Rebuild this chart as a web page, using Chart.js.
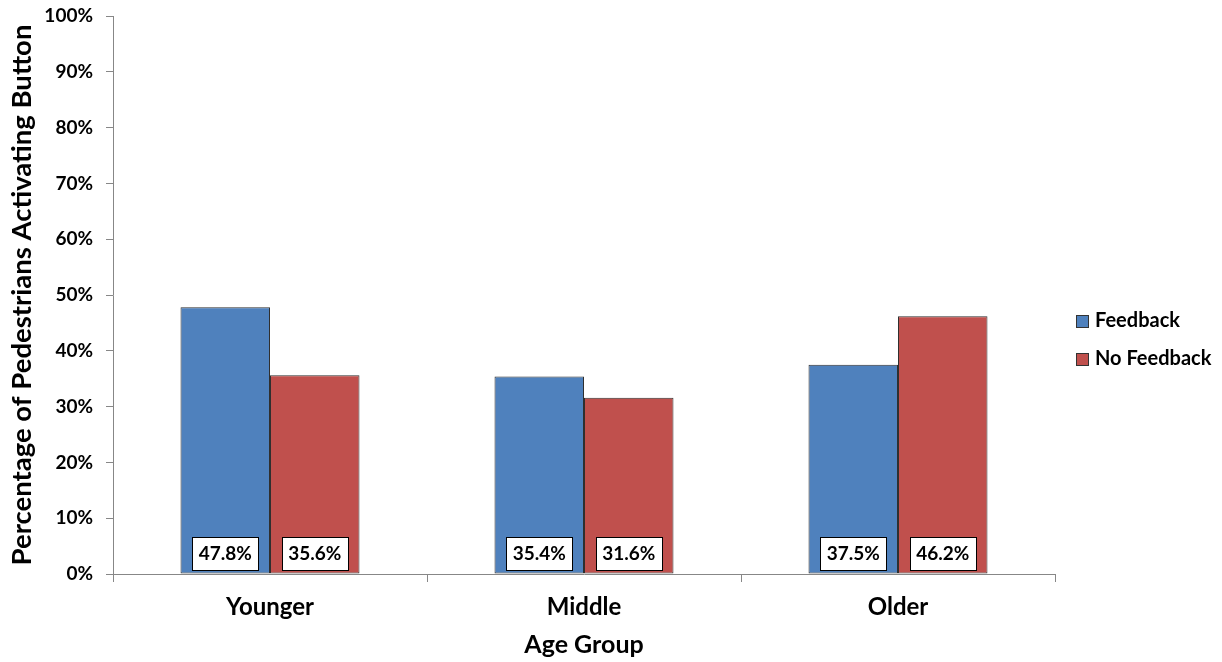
<!DOCTYPE html>
<html><head><meta charset="utf-8">
<script src="https://cdn.jsdelivr.net/npm/chart.js@4.4.1/dist/chart.umd.min.js"></script>
<style>html,body{margin:0;padding:0;background:#fff}#wrap{width:1222px;height:662px;position:relative}</style>
</head><body><div id="wrap"><canvas id="c"></canvas></div>
<script>
const categories = ['Younger', 'Middle', 'Older'];
const seriesNames = ['Feedback', 'No Feedback'];
const feedbackValues = [47.8, 35.4, 37.5];
const noFeedbackValues = [35.6, 31.6, 46.2];
const yTickStep = 10;
const yMax = 100;
const yTitle = 'Percentage of Pedestrians Activating Button';
const xTitle = 'Age Group';

const FONT = 'Lato, "Open Sans", sans-serif';
const AXIS_GRAY = '#878787';

const dataLabelPlugin = {
  id: 'dataLabels',
  afterDatasetsDraw(chart) {
    const ctx = chart.ctx;
    ctx.save();
    ctx.font = 'bold 19px ' + FONT;
    ctx.textAlign = 'center';
    ctx.textBaseline = 'middle';
    chart.data.datasets.forEach((ds, di) => {
      const meta = chart.getDatasetMeta(di);
      meta.data.forEach((bar, i) => {
        const w = 66, h = 33;
        const x = bar.x, bottom = bar.base - 4;
        ctx.fillStyle = '#fff';
        ctx.fillRect(Math.round(x - w / 2) + 0.5, Math.round(bottom - h) + 0.5, w, h);
        ctx.strokeStyle = '#000';
        ctx.lineWidth = 1;
        ctx.strokeRect(Math.round(x - w / 2) + 0.5, Math.round(bottom - h) + 0.5, w, h);
        ctx.fillStyle = '#000';
        ctx.fillText(ds.data[i].toFixed(1) + '%', x, bottom - h / 2 + 1);
      });
    });
    ctx.restore();
  }
};

const legendPlugin = {
  id: 'customLegend',
  afterDraw(chart) {
    const ctx = chart.ctx;
    const ca = chart.chartArea;
    ctx.save();
    ctx.font = 'bold 20px ' + FONT;
    ctx.textBaseline = 'middle';
    ctx.textAlign = 'left';
    const x0 = ca.right + 21;
    const rows = [321, 359];
    chart.data.datasets.forEach((ds, di) => {
      const cy = rows[di];
      ctx.fillStyle = ds.backgroundColor;
      ctx.fillRect(x0 + 0.5, cy - 6 + 0.5, 12, 12);
      ctx.strokeStyle = '#333';
      ctx.lineWidth = 1;
      ctx.strokeRect(x0 + 0.5, cy - 6 + 0.5, 12, 12);
      ctx.fillStyle = '#000';
      ctx.fillText(ds.label, x0 + 19, cy);
    });
    ctx.restore();
  }
};

new Chart(document.getElementById('c'), {
  type: 'bar',
  data: {
    labels: categories,
    datasets: [
      { label: seriesNames[0], data: feedbackValues, backgroundColor: '#4F81BD', borderColor: '#2f2f2f', borderWidth: 1, borderSkipped: false },
      { label: seriesNames[1], data: noFeedbackValues, backgroundColor: '#C0504D', borderColor: '#2f2f2f', borderWidth: 1, borderSkipped: false }
    ]
  },
  options: {
    responsive: true,
    maintainAspectRatio: false,
    animation: false,
    devicePixelRatio: 1,
    layout: { padding: { top: 16, right: 167, left: 0, bottom: 0 } },
    datasets: { bar: { categoryPercentage: 0.57, barPercentage: 1.0 } },
    plugins: { legend: { display: false }, tooltip: { enabled: false } },
    scales: {
      x: {
        offset: true,
        grid: { drawOnChartArea: false, drawTicks: true, tickLength: 8, color: AXIS_GRAY, offset: true },
        border: { color: AXIS_GRAY, width: 1 },
        ticks: { color: '#000', font: { family: FONT, size: 24, weight: 'bold' }, padding: 11 },
        title: { display: true, text: xTitle, color: '#000', font: { family: FONT, size: 25, weight: 'bold' }, padding: { top: 0, bottom: 2 } },
        afterFit(scale) { scale.height = 88; scale.paddingLeft = 0; scale.paddingRight = 0; }
      },
      y: {
        min: 0, max: yMax,
        grid: { drawOnChartArea: false, drawTicks: true, tickLength: 7, color: AXIS_GRAY },
        border: { color: AXIS_GRAY, width: 1 },
        ticks: { stepSize: yTickStep, color: '#000', font: { family: FONT, size: 19, weight: 'bold' }, padding: 13, callback: v => v + '%' },
        title: { display: true, text: yTitle, color: '#000', font: { family: FONT, size: 27.5, weight: 'bold' }, padding: { top: 6, bottom: 0 } },
        afterFit(scale) { scale.width = 113; scale.paddingTop = 0; scale.paddingBottom = 0; }
      }
    }
  },
  plugins: [dataLabelPlugin, legendPlugin]
});
</script>
</body></html>
